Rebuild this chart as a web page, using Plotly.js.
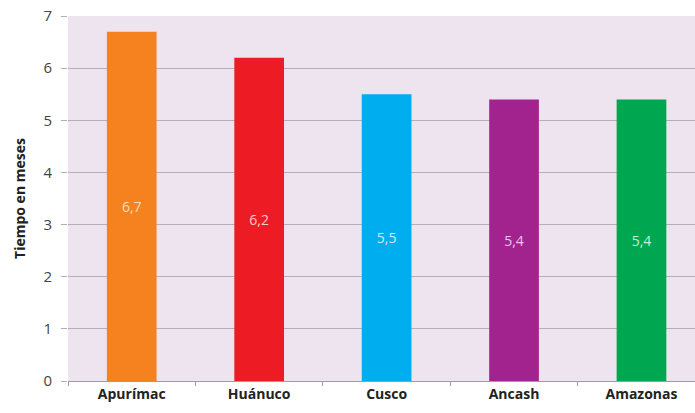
<!DOCTYPE html>
<html>
<head>
<meta charset="utf-8">
<script src="https://cdn.plot.ly/plotly-3.0.1.min.js"></script>
<style>html,body{margin:0;padding:0;background:#fff;}#chart{width:695px;height:413px;}</style>
</head>
<body>
<div id="chart"></div>
<script>
var categories = ["Apurímac", "Huánuco", "Cusco", "Ancash", "Amazonas"];
var values = [6.7, 6.2, 5.5, 5.4, 5.4];
var labels = ["6,7", "6,2", "5,5", "5,4", "5,4"];
var barColors = ["#f5821f", "#ed1c24", "#00aeef", "#a3238e", "#00a650"];
var textColors = ["#fcdcb8", "#fbcaca", "#cdeffc", "#efc6e8", "#c6efd6"];
var yTicks = [0, 1, 2, 3, 4, 5, 6, 7];

Plotly.newPlot("chart", [{
  type: "bar",
  x: categories,
  y: values,
  text: labels,
  texttemplate: "%{text}",
  textposition: "inside",
  insidetextanchor: "middle",
  textangle: 0,
  textfont: {family: "Open Sans, sans-serif", size: 14, color: textColors},
  marker: {color: barColors},
  width: 0.39,
  hoverinfo: "skip"
}], {
  width: 695, height: 413,
  margin: {l: 68, r: 0, t: 16, b: 32},
  paper_bgcolor: "#ffffff",
  plot_bgcolor: "#ede4f0",
  showlegend: false,
  font: {family: "Open Sans, sans-serif"},
  xaxis: {
    range: [-0.5, 4.42],
    showgrid: false,
    showline: true, linecolor: "#a09aa4", linewidth: 1,
    ticks: "outside", tickson: "boundaries", ticklen: 4, tickcolor: "#a09aa4",
    tickfont: {family: "Open Sans, sans-serif", size: 14, color: "#222", weight: "bold"},
    fixedrange: true
  },
  yaxis: {
    range: [0, 7],
    tickvals: yTicks,
    ticktext: yTicks.map(String),
    showgrid: true, gridcolor: "#b5adbb", gridwidth: 1,
    zeroline: false,
    showline: false,
    ticks: "outside", ticklen: 6, tickcolor: "#b5adbb",
    ticklabelstandoff: 6,
    tickfont: {family: "Open Sans, sans-serif", size: 15, color: "#444"},
    title: {text: "Tiempo en meses", font: {family: "Open Sans, sans-serif", size: 14, color: "#222", weight: "bold"}, standoff: 14},
    fixedrange: true
  }
}, {staticPlot: true, displayModeBar: false});
</script>
</body>
</html>
